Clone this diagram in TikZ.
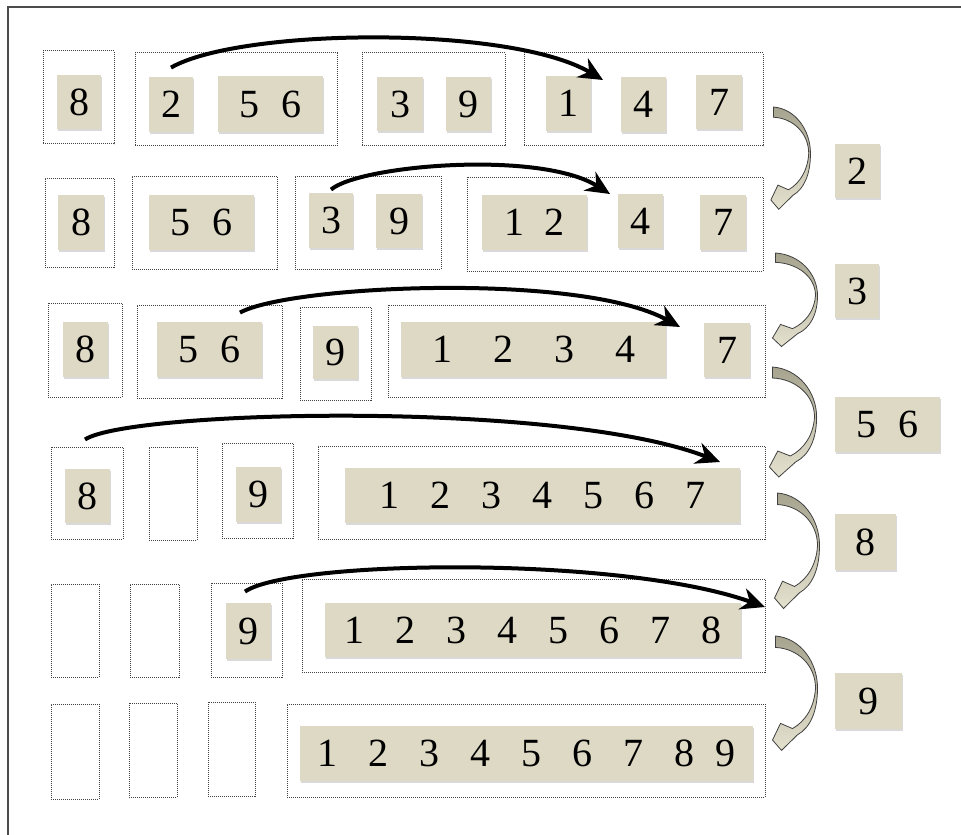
\documentclass[tikz,border=0pt]{standalone}
\usepackage{fontspec}
\setmainfont{Liberation Serif}
\usepackage{tikz}
\usetikzlibrary{arrows.meta, fit, calc, shadows}
\definecolor{tilebg}{RGB}{221,217,196}
\definecolor{bendtop}{RGB}{166,163,143}
\definecolor{bendbot}{RGB}{228,225,206}
\newcommand{\dgap}[1]{\hspace{#1}}

\tikzset{
  swaparrow/.pic={
    \path[top color=bendtop, bottom color=bendbot, draw=black!75, line width=0.4pt]
      (0,0) .. controls (25,2) and (42,25) .. (42,50)
      .. controls (42,72) and (35,88) .. (22,95)
      -- (6,110) -- (-3,100) -- (5,84) -- (17,89)
      .. controls (30,82) and (39,68) .. (40,50)
      .. controls (40,28) and (22,12) .. (0,11) -- cycle;
  }
}

\begin{document}
\begin{tikzpicture}[x=0.5pt, y=-0.5pt,
    frame/.style={draw=black!75, dash pattern=on 0.5pt off 0.5pt, line width=0.5pt, inner sep=0pt},
    tile/.style={fill=tilebg, inner sep=0pt,
      drop shadow={shadow xshift=0.4pt, shadow yshift=-1pt, opacity=0.3}},
    every label/.style={font=\fontsize{20}{24}\selectfont, inner sep=0pt},
    jump/.style={-{Stealth[length=12pt, width=11pt]}, line width=2pt}]
  \useasboundingbox (0,0) rectangle (961,834);
  \draw[black!70, line width=0.6pt] (8,850) -- (8,7) -- (975,7);

  % row 1
  \node[frame, fit={(43,51) (114,144)}] (b1a) {};
  \node[frame, fit={(135,53) (337,146)}] (b1b) {};
  \node[frame, fit={(362,53) (505,146)}] (b1c) {};
  \node[frame, fit={(524,53) (763,146)}] (b1d) {};
  \node[tile, fit={(57,75) (101,129)}, label=center:8] (n1a) {};
  \node[tile, fit={(149,77) (193,132)}, label=center:2] (n1b) {};
  \node[tile, fit={(218,76) (323,132)}, label=center:{5\dgap{11pt}6}] (n1c) {};
  \node[tile, fit={(377,77) (423,131)}, label=center:3] (n1d) {};
  \node[tile, fit={(446,77) (491,131)}, label=center:9] (n1e) {};
  \node[tile, fit={(546,76) (591,131)}, label=center:1] (n1f) {};
  \node[tile, fit={(621,77) (666,132)}, label=center:4] (n1g) {};
  \node[tile, fit={(696,75) (742,129)}, label=center:7] (n1h) {};

  % row 2
  \node[frame, fit={(45,178) (114,267)}] (b2a) {};
  \node[frame, fit={(132,176) (277,269)}] (b2b) {};
  \node[frame, fit={(295,176) (441,269)}] (b2c) {};
  \node[frame, fit={(467,177) (763,271)}] (b2d) {};
  \node[tile, fit={(58,195) (104,250)}, label=center:8] (n2a) {};
  \node[tile, fit={(149,195) (254,250)}, label=center:{5\dgap{11pt}6}] (n2b) {};
  \node[tile, fit={(309,193) (353,248)}, label=center:3] (n2c) {};
  \node[tile, fit={(376,194) (422,248)}, label=center:9] (n2d) {};
  \node[tile, fit={(482,195) (587,250)}, label=center:{1\dgap{10pt}2}] (n2e) {};
  \node[tile, fit={(618,194) (663,248)}, label=center:4] (n2f) {};
  \node[tile, fit={(700,195) (746,250)}, label=center:7] (n2g) {};

  % row 3
  \node[frame, fit={(48,303) (122,397)}] (b3a) {};
  \node[frame, fit={(137,305) (282,398)}] (b3b) {};
  \node[frame, fit={(300,307) (371,400)}] (b3c) {};
  \node[frame, fit={(388,305) (765,397)}] (b3d) {};
  \node[tile, fit={(63,322) (108,377)}, label=center:8] (n3a) {};
  \node[tile, fit={(157,322) (262,377)}, label=center:{5\dgap{11pt}6}] (n3b) {};
  \node[tile, fit={(313,326) (358,379)}, label=center:9] (n3c) {};
  \node[tile, fit={(401,322) (666,377)},
    label=center:{1\dgap{20.5pt}2\dgap{20.5pt}3\dgap{20.5pt}4}] (n3d) {};
  \node[tile, fit={(704,323) (750,377)}, label=center:7] (n3e) {};

  % row 4
  \node[frame, fit={(51,447) (123,539)}] (b4a) {};
  \node[frame, fit={(149,447) (197,540)}] (b4b) {};
  \node[frame, fit={(222,443) (293,538)}] (b4c) {};
  \node[frame, fit={(318,446) (765,539)}] (b4d) {};
  \node[tile, fit={(65,469) (110,523)}, label=center:8] (n4a) {};
  \node[tile, fit={(236,467) (281,522)}, label=center:9] (n4b) {};
  \node[tile, fit={(345,468) (740,523)},
    label=center:{1\dgap{15.5pt}2\dgap{15.5pt}3\dgap{15.5pt}4\dgap{15.5pt}5\dgap{15.5pt}6\dgap{15.5pt}7}] (n4c) {};

  % row 5
  \node[frame, fit={(51,584) (99,677)}] (b5a) {};
  \node[frame, fit={(130,584) (179,677)}] (b5b) {};
  \node[frame, fit={(211,583) (282,677)}] (b5c) {};
  \node[frame, fit={(302,579) (765,672)}] (b5d) {};
  \node[tile, fit={(226,603) (271,659)}, label=center:9] (n5a) {};
  \node[tile, fit={(325,603) (741,657)},
    label=center:{1\dgap{15.5pt}2\dgap{15.5pt}3\dgap{15.5pt}4\dgap{15.5pt}5\dgap{15.5pt}6\dgap{15.5pt}7\dgap{15.5pt}8}] (n5b) {};

  % row 6
  \node[frame, fit={(51,704) (99,799)}] (b6a) {};
  \node[frame, fit={(129,703) (177,797)}] (b6b) {};
  \node[frame, fit={(208,702) (255,796)}] (b6c) {};
  \node[frame, fit={(287,704) (765,797)}] (b6d) {};
  \node[tile, fit={(300,726) (753,781)},
    label=center:{1\dgap{15.5pt}2\dgap{15.5pt}3\dgap{15.5pt}4\dgap{15.5pt}5\dgap{15.5pt}6\dgap{15.5pt}7\dgap{15.5pt}8\dgap{10.5pt}9}] (n6a) {};

  % moved values
  \node[tile, fit={(835,144) (880,198)}, label=center:2] (m1) {};
  \node[tile, fit={(835,264) (879,318)}, label=center:3] (m2) {};
  \node[tile, fit={(835,397) (940,452)}, label=center:{5\dgap{11pt}6}] (m3) {};
  \node[tile, fit={(835,514) (896,570)}, label=center:8] (m4) {};
  \node[tile, fit={(835,673) (902,729)}, label=center:9] (m5) {};

  % insert arrows
  \coordinate (c1) at (603,80);
  \coordinate (c2) at (610,194);
  \coordinate (c3) at (680,327);
  \coordinate (c4) at (720,462);
  \coordinate (c5) at (765,607);
  \draw[jump] ([yshift=4.5pt]n1b.north) .. controls (240,28) and (510,25) .. (c1);
  \draw[jump] ([yshift=1.5pt]n2c.north) .. controls (360,165) and (540,150) .. (c2);
  \draw[jump] ([xshift=15.25pt, yshift=4.5pt]n3b.north) .. controls (290,285) and (580,272) .. (c3);
  \draw[jump] ([xshift=-1pt, yshift=3.5pt]b4a.north) .. controls (130,410) and (560,400) .. (c4);
  \draw[jump] ([xshift=-1.75pt, yshift=5.5pt]n5a.north) .. controls (290,560) and (620,555) .. (c5);

  % row to row
  \pic[xscale=.88, yscale=.93] at ($(b1d.east)+(10,7.5)$) {swaparrow};
  \pic[yscale=.85] at ($(b2d.east)+(12,29)$) {swaparrow};
  \pic[xscale=1.05] at ($(b3d.east)+(7,16)$) {swaparrow};
  \pic[yscale=1.05] at ($(b4d.east)+(12,0.5)$) {swaparrow};
  \pic[yscale=1.04] at ($(b5d.east)+(10,10.5)$) {swaparrow};
\end{tikzpicture}
\end{document}
